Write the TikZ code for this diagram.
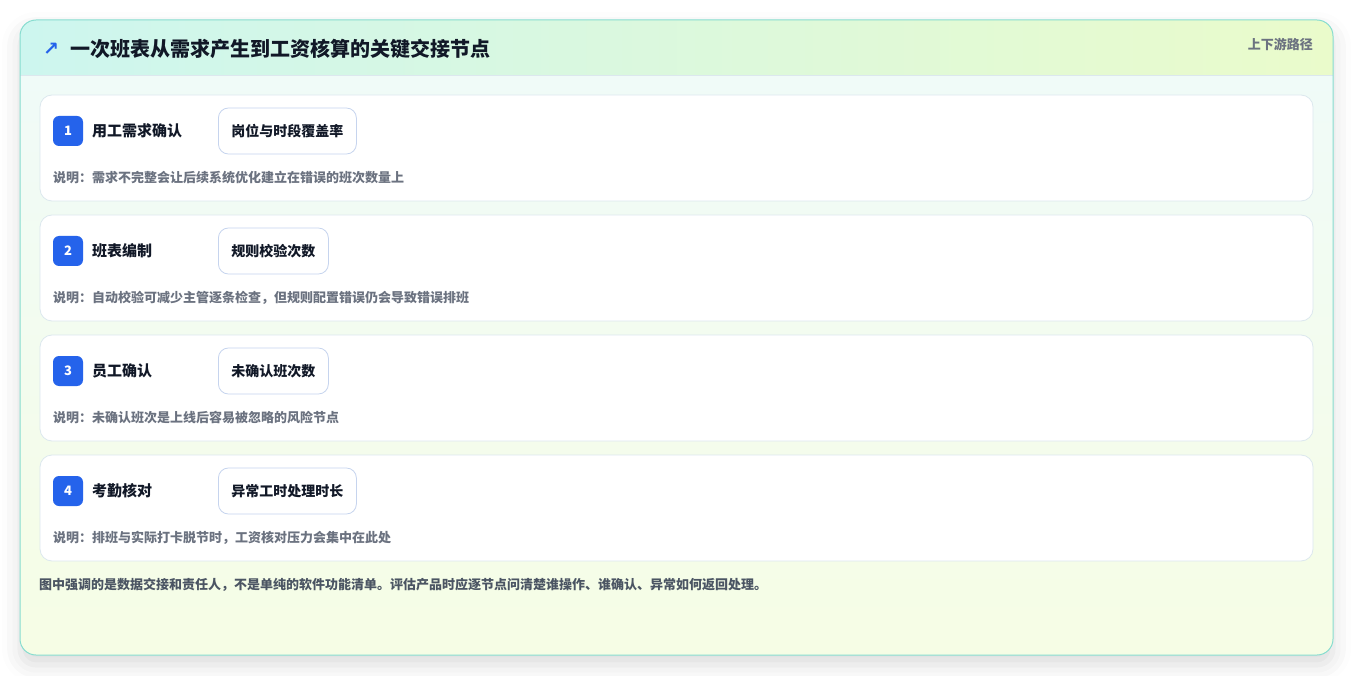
\documentclass[tikz,border=0pt]{standalone}
\usepackage{fontspec}
\setmainfont{Noto Sans CJK SC}
\newfontfamily\symfont{DejaVu Sans}
\usetikzlibrary{shadows.blur}

\definecolor{frameline}{HTML}{86DCCF}
\definecolor{headleft}{HTML}{CDF6EF}
\definecolor{headright}{HTML}{EAFBCB}
\definecolor{bodytop}{HTML}{F0FBF8}
\definecolor{bodybottom}{HTML}{F6FDE5}
\definecolor{cardline}{HTML}{DCE8EE}
\definecolor{metricline}{HTML}{C6D4EE}
\definecolor{badgeblue}{HTML}{2563EB}
\definecolor{titleink}{HTML}{111827}
\definecolor{notegray}{HTML}{6B7280}
\definecolor{footgray}{HTML}{4B5563}

\begin{document}
\begin{tikzpicture}[x=1pt,y=-1pt,
    card/.style={draw=cardline,fill=white,rounded corners=12pt,line width=0.8pt},
    badge/.style={fill=badgeblue,text=white,rounded corners=6pt,minimum size=30pt,inner sep=0pt,
        font=\fontsize{13}{15}\selectfont\bfseries},
    steplabel/.style={anchor=west,inner sep=0pt,text=titleink,font=\fontsize{15}{17}\selectfont\bfseries},
    metric/.style={anchor=west,draw=metricline,fill=white,rounded corners=10pt,line width=0.8pt,
        minimum height=46pt,inner xsep=13pt,text=titleink,font=\fontsize{14}{16}\selectfont\bfseries},
    note/.style={anchor=west,inner sep=0pt,text=notegray,font=\fontsize{13}{15}\selectfont\bfseries}]
    \useasboundingbox (0,0) rectangle (1354,676);

    % outer frame
    \fill[white,rounded corners=16pt,
        blur shadow={shadow xshift=0pt,shadow yshift=-10pt,shadow blur radius=18pt,shadow opacity=14}]
        (20,20) rectangle (1333,655);
    \begin{scope}
        \clip[rounded corners=16pt] (20,20) rectangle (1333,655);
        \shade[top color=bodytop,bottom color=bodybottom] (20,75) rectangle (1333,655);
        \shade[left color=headleft,right color=headright] (20,20) rectangle (1333,75);
        \draw[cardline,line width=0.8pt] (20,75) -- (1333,75);
    \end{scope}
    \draw[frameline,line width=1pt,rounded corners=16pt] (20,20) rectangle (1333,655);

    % header
    \node[text=badgeblue,inner sep=0pt,font=\symfont\bfseries\fontsize{19}{19}\selectfont] (icon) at (51,49) {↗};
    \node[anchor=west,inner sep=0pt,text=titleink,font=\fontsize{20}{23}\selectfont\bfseries]
        (title) at (70,49) {一次班表从需求产生到工资核算的关键交接节点};
    \node[anchor=east,inner sep=0pt,text=notegray,font=\fontsize{13}{15}\selectfont\bfseries]
        (route) at (1313,44) {上下游路径};

    % steps
    \foreach \n/\name/\kpi/\remark in {
        1/用工需求确认/岗位与时段覆盖率/需求不完整会让后续系统优化建立在错误的班次数量上,
        2/班表编制/规则校验次数/自动校验可减少主管逐条检查，但规则配置错误仍会导致错误排班,
        3/员工确认/未确认班次数/未确认班次是上线后容易被忽略的风险节点,
        4/考勤核对/异常工时处理时长/排班与实际打卡脱节时，工资核对压力会集中在此处}
    {
        \pgfmathsetmacro\top{95+120*(\n-1)}
        \draw[card] (40,\top) rectangle (1313,\top+106);
        \node[badge] (badge\n) at (68,\top+36) {\n};
        \node[steplabel] (name\n) at (92,\top+36) {\name};
        \node[metric] (kpi\n) at (218,\top+36) {\kpi};
        \node[note] (remark\n) at (53,\top+83) {说明：\remark};
    }

    \node[anchor=west,inner sep=0pt,text=footgray,font=\fontsize{13}{15}\selectfont\bfseries]
        (footer) at (39,585) {图中强调的是数据交接和责任人，不是单纯的软件功能清单。评估产品时应逐节点问清楚谁操作、谁确认、异常如何返回处理。};
\end{tikzpicture}
\end{document}
